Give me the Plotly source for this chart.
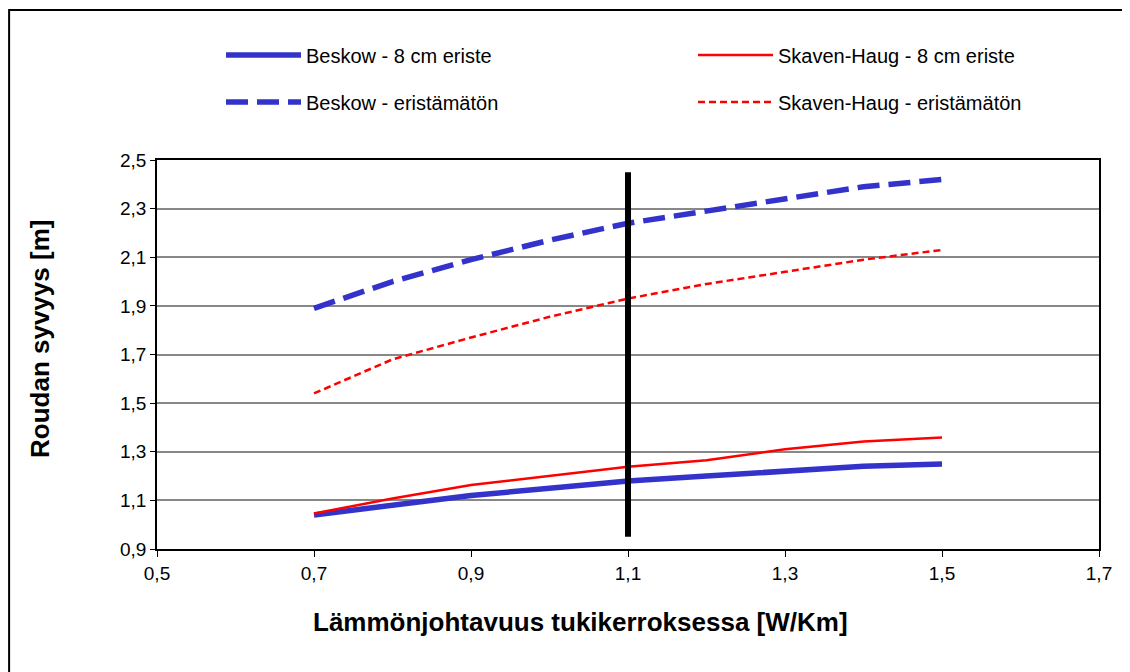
import plotly.graph_objects as go

# Lämmönjohtavuus [W/Km]
k_values = [0.7, 0.8, 0.9, 1.0, 1.1, 1.2, 1.3, 1.4, 1.5]

beskow_8cm = [1.04, 1.08, 1.12, 1.15, 1.18, 1.20, 1.22, 1.24, 1.25]
skaven_8cm = [1.046, 1.108, 1.163, 1.20, 1.238, 1.265, 1.31, 1.342, 1.359]
beskow_bare = [1.89, 2.00, 2.09, 2.17, 2.24, 2.29, 2.345, 2.39, 2.42]
skaven_bare = [1.54, 1.68, 1.77, 1.855, 1.93, 1.99, 2.04, 2.09, 2.13]

marker_x = [1.1, 1.1]
marker_y = [0.95, 2.45]

x_ticks = [0.5, 0.7, 0.9, 1.1, 1.3, 1.5, 1.7]
y_ticks = [0.9, 1.1, 1.3, 1.5, 1.7, 1.9, 2.1, 2.3, 2.5]

BLUE = "#3333CC"
RED = "#FF0000"
FONT = "Liberation Sans, Arial, sans-serif"
W, H = 1122, 664


def fmt(v):
    return f"{v:.1f}".replace(".", ",")


fig = go.Figure()
fig.add_trace(go.Scatter(x=k_values, y=beskow_8cm, mode="lines", name="Beskow - 8 cm eriste",
                         line=dict(color=BLUE, width=5.5), legend="legend"))
fig.add_trace(go.Scatter(x=k_values, y=skaven_8cm, mode="lines", name="Skaven-Haug - 8 cm eriste",
                         line=dict(color=RED, width=2.5), legend="legend2"))
fig.add_trace(go.Scatter(x=k_values, y=beskow_bare, mode="lines", name="Beskow - eristämätön",
                         line=dict(color=BLUE, width=5.5, dash="22px,9px"), legend="legend3"))
fig.add_trace(go.Scatter(x=k_values, y=skaven_bare, mode="lines", name="Skaven-Haug - eristämätön",
                         line=dict(color=RED, width=2.5, dash="7px,4px"), legend="legend4"))
fig.add_trace(go.Scatter(x=marker_x, y=marker_y, mode="lines", showlegend=False,
                         line=dict(color="black", width=6)))

legend_style = dict(
    orientation="h",
    xref="container",
    yref="container",
    xanchor="left",
    yanchor="middle",
    itemwidth=75,
    font=dict(family=FONT, size=20),
    bgcolor="rgba(0,0,0,0)",
)
col1, col2 = 213 / W, 685 / W
row1, row2 = 1 - 47 / H, 1 - 94 / H

fig.update_layout(
    width=W,
    height=H,
    plot_bgcolor="white",
    paper_bgcolor="white",
    font=dict(family=FONT, size=19, color="black"),
    margin=dict(l=149, r=31, t=152, b=123, autoexpand=False),
    showlegend=True,
    legend=dict(legend_style, x=col1, y=row1),
    legend2=dict(legend_style, x=col2, y=row1),
    legend3=dict(legend_style, x=col1, y=row2),
    legend4=dict(legend_style, x=col2, y=row2),
)

fig.update_xaxes(
    range=[0.5, 1.7],
    tickvals=x_ticks,
    ticktext=[fmt(v) for v in x_ticks],
    ticks="outside",
    ticklen=6,
    tickcolor="black",
    showline=True,
    linecolor="black",
    linewidth=1.5,
    mirror=True,
    showgrid=False,
    zeroline=False,
)
fig.update_yaxes(
    range=[0.9, 2.5],
    tickvals=y_ticks,
    ticktext=[fmt(v) for v in y_ticks],
    ticks="outside",
    ticklen=5,
    tickcolor="black",
    showline=True,
    linecolor="black",
    linewidth=1.5,
    mirror=True,
    showgrid=True,
    gridcolor="#888888",
    gridwidth=1.5,
    zeroline=False,
)

# axis titles
fig.add_annotation(text="<b>Lämmönjohtavuus tukikerroksessa [W/Km]</b>", xref="paper", yref="paper",
                   x=(580 - 157) / 942, y=-(622 - 549) / 389, showarrow=False,
                   xanchor="center", yanchor="middle", font=dict(size=26))
fig.add_annotation(text="<b>Roudan syvyys [m]</b>", xref="paper", yref="paper",
                   x=-(157 - 40) / 942, y=(549 - 339) / 389, showarrow=False, textangle=-90,
                   xanchor="center", yanchor="middle", font=dict(size=26))

# outer chart-area frame
fig.add_shape(type="rect", xref="paper", yref="paper",
              x0=-0.157, x1=1.1, y0=-0.5, y1=1 + 150 / 389,
              line=dict(color="black", width=2), fillcolor="rgba(0,0,0,0)", layer="below")

fig.write_html("out.html")
